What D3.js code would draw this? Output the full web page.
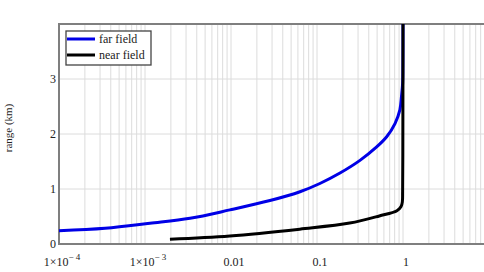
<!DOCTYPE html>
<html><head><meta charset="utf-8">
<script src="https://cdn.jsdelivr.net/npm/d3@7"></script>
<style>html,body{margin:0;padding:0;background:#fff;overflow:hidden}</style>
</head><body><svg id="c" width="484" height="272"></svg>
<script>
const xTickValues = [1e-4, 1e-3, 0.01, 0.1, 1];
const xTickLabels = [["1×10", "− 4"], ["1×10", "− 3"], ["0.01", ""], ["0.1", ""], ["1", ""]];
const yTickValues = [0, 1, 2, 3];
const seriesNames = ["far field", "near field"];
const seriesColors = ["#0000e6", "#000000"];
const farX = [1e-4, 3.43e-4, 1.14e-3, 3.34e-3, 9.7e-3, 0.0284, 0.0634, 0.108, 0.185, 0.316, 0.49, 0.646, 0.807, 0.92, 0.96, 0.99, 0.998, 1.0];
const farY = [0.24, 0.285, 0.376, 0.467, 0.62, 0.79, 0.95, 1.10, 1.29, 1.52, 1.76, 1.95, 2.19, 2.44, 2.68, 2.92, 3.3, 4.0];
const nearX = [1.95e-3, 9.7e-3, 0.063, 0.24, 0.53, 0.85, 0.95, 0.983, 0.99, 0.995, 1.0];
const nearY = [0.085, 0.145, 0.27, 0.38, 0.51, 0.605, 0.68, 0.77, 0.95, 1.6, 4.0];

const svg = d3.select("#c");
const L = 59, T = 24, B = 244, R = 489;
const x = d3.scaleLog().domain([1e-4, 10]).range([L, R]);
const y = d3.scaleLinear().domain([0, 4]).range([B, T]);
const font = "Liberation Serif, Times New Roman, serif";

const gridX = [];
for (let e = -4; e < 1; e++) for (let m = 1; m < 10; m++) gridX.push(m * Math.pow(10, e));
svg.append("g").selectAll("line").data(gridX).join("line")
  .attr("x1", d => x(d)).attr("x2", d => x(d)).attr("y1", T).attr("y2", B)
  .attr("stroke", "#dcdcdc").attr("stroke-width", 1);
svg.append("g").selectAll("line").data([1, 2, 3]).join("line")
  .attr("x1", L).attr("x2", 484).attr("y1", d => y(d)).attr("y2", d => y(d))
  .attr("stroke", "#dcdcdc").attr("stroke-width", 1);

svg.append("path").attr("d", `M484,${T}H${L}V${B}H484`).attr("fill", "none")
  .attr("stroke", "#7f7f7f").attr("stroke-width", 2);

svg.append("g").selectAll("text").data(yTickValues).join("text")
  .attr("x", 56).attr("y", d => y(d) + 4).attr("text-anchor", "end")
  .attr("font-family", font).attr("font-size", 12).attr("fill", "#222").text(d => d);

const xt = svg.append("g").selectAll("text").data(xTickValues).join("text")
  .attr("x", d => x(d) + 3).attr("y", 266).attr("text-anchor", "middle")
  .attr("font-family", font).attr("font-size", 12).attr("fill", "#222");
xt.each(function(d, i) {
  const t = d3.select(this);
  t.append("tspan").text(xTickLabels[i][0]);
  if (xTickLabels[i][1]) t.append("tspan").attr("dy", -6).attr("font-size", 9).text(xTickLabels[i][1]);
});

svg.append("text").attr("transform", "translate(12,128) rotate(-90)")
  .attr("text-anchor", "middle").attr("font-family", font).attr("font-size", 11)
  .attr("fill", "#222").text("range (km)");

const line = d3.line().x(d => x(d[0])).y(d => y(d[1])).curve(d3.curveCatmullRom.alpha(0.5));
const farData = farX.map((v, i) => [v, farY[i]]);
const nearData = nearX.map((v, i) => [v, nearY[i]]);
svg.append("path").datum(farData).attr("d", line).attr("fill", "none")
  .attr("stroke", seriesColors[0]).attr("stroke-width", 3);
svg.append("path").datum(nearData).attr("d", line).attr("fill", "none")
  .attr("stroke", seriesColors[1]).attr("stroke-width", 3);

const lg = svg.append("g");
lg.append("rect").attr("x", 66).attr("y", 31).attr("width", 85).attr("height", 34)
  .attr("fill", "#fff").attr("stroke", "#444").attr("stroke-width", 1.3);
seriesNames.forEach((n, i) => {
  const yy = 39 + i * 16;
  lg.append("line").attr("x1", 67).attr("x2", 95).attr("y1", yy).attr("y2", yy)
    .attr("stroke", seriesColors[i]).attr("stroke-width", 3);
  lg.append("text").attr("x", 99).attr("y", yy + 4).attr("font-family", font)
    .attr("font-size", 12).attr("fill", "#222").text(n);
});
</script></body></html>
